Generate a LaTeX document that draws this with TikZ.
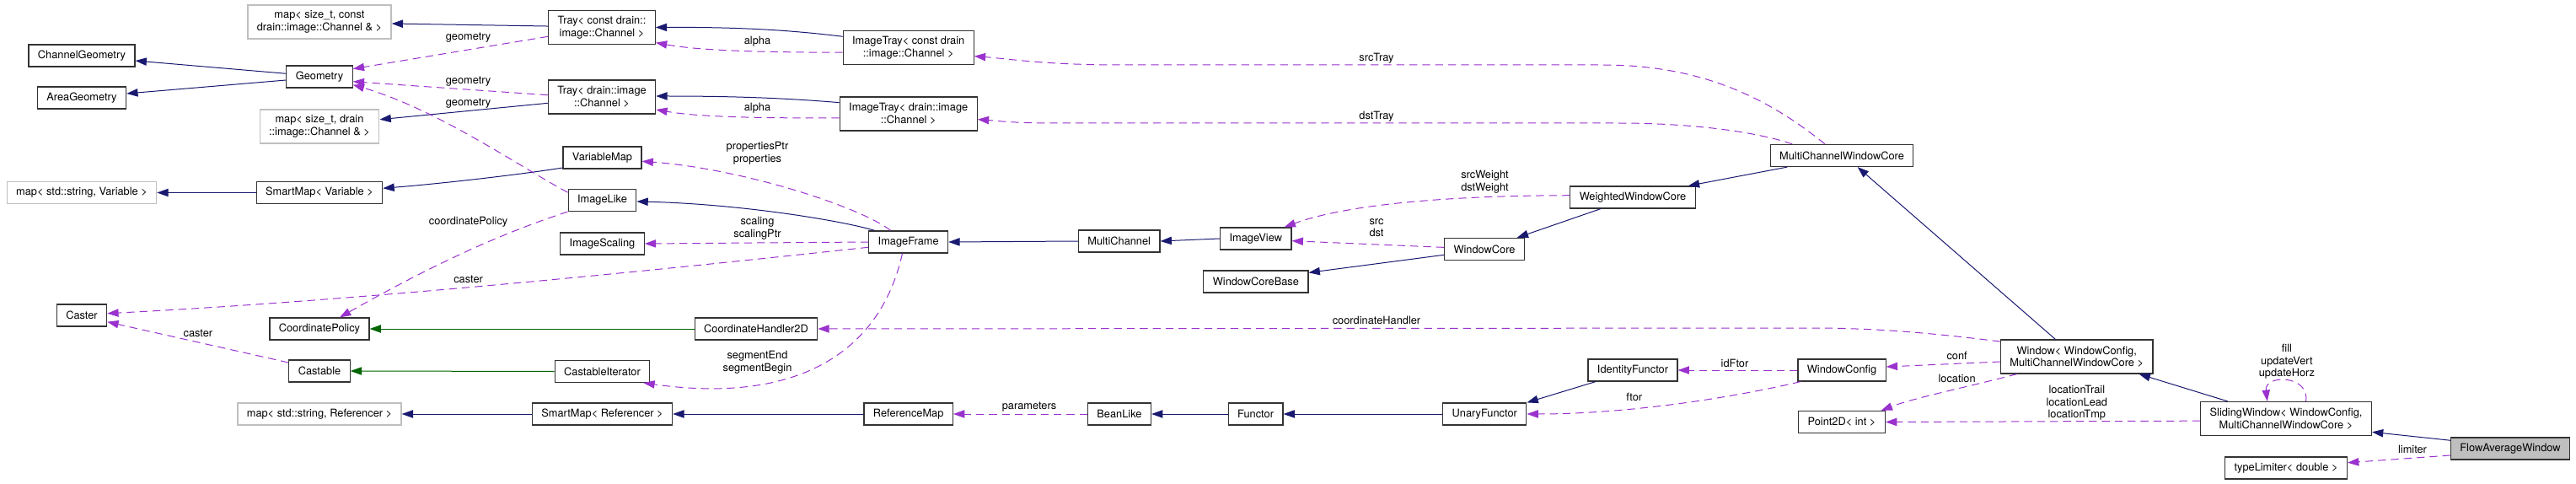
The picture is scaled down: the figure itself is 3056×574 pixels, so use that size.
\documentclass[tikz,border=0pt]{standalone}
\usepackage{fontspec}
\setmainfont{TeX Gyre Heros}
\usepackage{xcolor}
\usetikzlibrary{arrows.meta, positioning}
\definecolor{inhnavy}{HTML}{191970}
\definecolor{usepurple}{HTML}{9A32CD}
\definecolor{tmplgreen}{HTML}{006400}
\definecolor{extgray}{HTML}{BFBFBF}

\begin{document}
\begin{tikzpicture}[x=0.75pt, y=-0.75pt,
    cls/.style={draw=black!80, line width=0.9pt, fill=white, font=\fontsize{9.6}{11}\selectfont,
      inner xsep=8.2pt, inner ysep=0pt, minimum height=19.5pt, align=center},
    two/.style={minimum height=30pt},
    extcls/.style={cls, draw=extgray},
    focuscls/.style={cls, fill=extgray},
    lbl/.style={font=\fontsize{9.6}{11}\selectfont, align=center, inner sep=0pt},
    inherit/.style={draw=inhnavy, line width=0.75pt, -{Triangle[length=10pt,width=7pt]}},
    usage/.style={draw=usepurple, line width=0.75pt, dash pattern=on 7pt off 4.5pt,
      -{Triangle[length=10pt,width=7pt]}},
    tmpl/.style={draw=tmplgreen, line width=0.75pt, -{Triangle[length=10pt,width=7pt]}}]
                \useasboundingbox (0,0) rectangle (3056,574);
                % Classes
                \node[extcls, two] (mapc) at (379,26) {map< size\_t, const\\drain::image::Channel \& >};
                \node[cls] (chgeo) at (97,66) {ChannelGeometry};
                \node[cls] (areageo) at (97,116) {AreaGeometry};
                \node[cls] (geo) at (379,91) {Geometry};
                \node[extcls, two] (mapd) at (379,150) {map< size\_t, drain\\::image::Channel \& >};
                \node[extcls] (mapvar) at (97,228.5) {map< std::string, Variable >};
                \node[cls] (smvar) at (379,228.5) {SmartMap< Variable >};
                \node[cls] (caster) at (97,374) {Caster};
                \node[cls] (cpol) at (379,390) {CoordinatePolicy};
                \node[cls] (castable) at (379,440) {Castable};
                \node[extcls] (mapref) at (379,491) {map< std::string, Referencer >};
                \node[cls, two] (trayc) at (714,32.5) {Tray< const drain::\\image::Channel >};
                \node[cls, two] (trayd) at (714,115) {Tray< drain::image\\::Channel >};
                \node[cls] (varmap) at (714.5,187) {VariableMap};
                \node[cls] (imglike) at (714.5,237.5) {ImageLike};
                \node[cls] (imgscal) at (714.5,289) {ImageScaling};
                \node[cls] (castit) at (714.5,440.5) {CastableIterator};
                \node[cls] (smref) at (714.5,491) {SmartMap< Referencer >};
                \node[cls] (coordh) at (897,390) {CoordinateHandler2D};
                \node[cls, two] (itrayc) at (1077.7,56.5) {ImageTray< const drain\\::image::Channel >};
                \node[cls, two] (itrayd) at (1077.7,135) {ImageTray< drain::image\\::Channel >};
                \node[cls] (imgframe) at (1077.7,287) {ImageFrame};
                \node[cls] (refmap) at (1077.7,491) {ReferenceMap};
                \node[cls] (multich) at (1327.7,286) {MultiChannel};
                \node[cls] (beanlike) at (1328,491) {BeanLike};
                \node[cls] (imgview) at (1489.8,283) {ImageView};
                \node[cls] (wcbase) at (1489.9,334) {WindowCoreBase};
                \node[cls] (functor) at (1489.6,491) {Functor};
                \node[cls] (wcore) at (1761,295.5) {WindowCore};
                \node[cls] (unary) at (1761.3,491) {UnaryFunctor};
                \node[cls] (wwcore) at (1937,234) {WeightedWindowCore};
                \node[cls] (idfunc) at (1937,439) {IdentityFunctor};
                \node[cls] (mcwcore) at (2185,184.5) {MultiChannelWindowCore};
                \node[cls] (wconf) at (2185,439) {WindowConfig};
                \node[cls] (point) at (2185,500.5) {Point2D< int >};
                \node[cls, two] (window) at (2463.7,423) {Window< WindowConfig,\\MultiChannelWindowCore >};
                \node[cls, two] (sliding) at (2712,496.5) {SlidingWindow< WindowConfig,\\MultiChannelWindowCore >};
                \node[cls] (limiter) at (2712,555) {typeLimiter< double >};
                \node[focuscls] (flow) at (2978,532) {FlowAverageWindow};
                % Inheritance
                \draw[inherit] ([yshift=1.1pt]trayc.west) -- ([yshift=-1.5pt]mapc.east);
                \draw[inherit] ([yshift=2.8pt]geo.west) -- ([yshift=-4.5pt]chgeo.east);
                \draw[inherit] ([yshift=-3pt]geo.west) -- ([yshift=3.75pt]areageo.east);
                \draw[inherit] ([yshift=-5.5pt]trayd.west) -- ([yshift=6.2pt]mapd.east);
                \draw[inherit] ([yshift=9.9pt]itrayc.west) .. controls (940,36) and (880,32) .. (trayc.east);
                \draw[inherit] ([yshift=10pt]itrayd.west) .. controls (940,117) and (880,114) .. ([yshift=0.75pt]trayd.east);
                \draw[inherit] (smvar.west) -- (mapvar.east);
                \draw[inherit] ([yshift=-9pt]varmap.west) .. controls (610,208) and (520,218) .. ([yshift=3.9pt]smvar.east);
                \draw[inherit] ([xshift=-30pt]imgframe.north) .. controls (1000,262) and (880,242) .. ([yshift=-1.1pt]imglike.east);
                \draw[inherit] (smref.west) -- (mapref.east);
                \draw[inherit] (refmap.west) -- (smref.east);
                \draw[inherit] (multich.west) -- (imgframe.east);
                \draw[inherit] (imgview.west) -- (multich.east);
                \draw[inherit] (functor.west) -- (beanlike.east);
                \draw[inherit] (unary.west) -- (functor.east);
                \draw[inherit] ([yshift=-5.1pt]wcore.west) -- ([yshift=8pt]wcbase.east);
                \draw[inherit] ([xshift=-28.5pt]wwcore.south) -- ([xshift=-7pt]wcore.north east);
                \draw[inherit] ([xshift=-48.5pt]mcwcore.south) -- ([xshift=-6.75pt]wwcore.north east);
                \draw[inherit] ([xshift=-19pt]window.north) -- ([xshift=14pt]mcwcore.south);
                \draw[inherit] ([xshift=-33pt]idfunc.south) -- (unary.north east);
                \draw[inherit] ([xshift=-52pt]sliding.north) -- ([xshift=55.4pt]window.south);
                \draw[inherit] ([yshift=7.3pt]flow.west) -- ([yshift=-11.9pt]sliding.east);
                % Protected inheritance
                \draw[tmpl] (coordh.west) -- (cpol.east);
                \draw[tmpl] (castit.west) -- (castable.east);
                % Members
                \draw[usage] ([yshift=-8.1pt]trayc.west) -- ([yshift=7pt]geo.east);
                \draw[usage] ([yshift=1.7pt]trayd.west) -- ([yshift=-4.3pt]geo.east);
                \draw[usage] ([yshift=7pt]imglike.west) .. controls (620,200) and (520,130) .. ([yshift=3pt]geo.south east);
                \draw[usage] ([yshift=-4.3pt]itrayc.west) .. controls (900,62) and (830,60) .. ([yshift=-13.6pt]trayc.east);
                \draw[usage] ([yshift=-3.75pt]itrayd.west) .. controls (900,140) and (830,139) .. ([yshift=-11.25pt]trayd.east);
                \draw[usage] (imglike.south west) .. controls (600,275) and (520,310) .. ([xshift=18pt]cpol.north);
                \draw[usage] ([xshift=-15.75pt]imgframe.north) .. controls (1020,245) and (880,200) .. ([yshift=-3.2pt]varmap.east);
                \draw[usage] (imgframe.west) -- (imgscal.east);
                \draw[usage] ([yshift=-4.7pt]imgframe.west) .. controls (800,318) and (450,355) .. ([yshift=1.7pt]caster.east);
                \draw[usage] ([yshift=7.5pt]castable.west) -- ([yshift=-5.8pt]caster.east);
                \draw[usage] ([xshift=-5.4pt]imgframe.south) .. controls (1045,415) and (950,480) .. ([xshift=-6pt]castit.south east);
                \draw[usage] (beanlike.west) -- (refmap.east);
                \draw[usage] ([yshift=1.7pt]wwcore.west) .. controls (1700,232) and (1590,245) .. ([xshift=-6.75pt]imgview.north east);
                \draw[usage] ([yshift=1.6pt]wcore.west) -- ([yshift=-2pt]imgview.east);
                \draw[usage] ([xshift=-15pt]mcwcore.north) .. controls (2090,110) and (2010,77) .. (1900,77) -- (1330,77)
                    .. controls (1240,77) and (1200,70) .. ([yshift=-7.6pt]itrayc.east);
                \draw[usage] ([xshift=-44pt]mcwcore.north) .. controls (2080,155) and (2000,146) .. (1920,146) -- (1250,146)
                    .. controls (1200,146) and (1180,143) .. ([yshift=-5pt]itrayd.east);
                \draw[usage] ([yshift=13.5pt]window.west) .. controls (2300,396) and (2230,389) .. (2150,389) -- (coordh.east);
                \draw[usage] ([yshift=-4.5pt]window.west) -- ([yshift=3pt]wconf.east);
                \draw[usage] ([xshift=15pt]window.south west) .. controls (2330,460) and (2270,472) .. ([xshift=-4pt]point.north east);
                \draw[usage] (wconf.west) -- (idfunc.east);
                \draw[usage] ([xshift=3pt]wconf.south west) .. controls (2040,475) and (1920,491) .. (unary.east);
                \draw[usage] ([yshift=-2pt]sliding.west) -- (point.east);
                \draw[usage] ([xshift=17.7pt]sliding.north) .. controls (2740,444) and (2686,444) .. ([xshift=-16.7pt]sliding.north);
                \draw[usage] ([yshift=-6pt]flow.west) -- ([yshift=4.7pt]limiter.east);
                % Labels
                \node[lbl] (lgeoa) at (555.6,45) {geometry};
                \node[lbl] (lgeob) at (555.6,97) {geometry};
                \node[lbl] (lgeoc) at (555.6,123) {geometry};
                \node[lbl] (lcpol) at (555.6,263) {coordinatePolicy};
                \node[lbl] (lcastera) at (555.6,331) {caster};
                \node[lbl] (lcasterb) at (234.9,395) {caster};
                \node[lbl] (lalphaa) at (898.5,49) {alpha};
                \node[lbl] (lalphab) at (898.5,128) {alpha};
                \node[lbl] (lprops) at (898.5,182) {propertiesPtr\\properties};
                \node[lbl] (lscal) at (898.5,271) {scaling\\scalingPtr};
                \node[lbl] (lseg) at (898.5,430) {segmentEnd\\segmentBegin};
                \node[lbl] (lparam) at (1221,483) {parameters};
                \node[lbl] (lsrctray) at (1633,69) {srcTray};
                \node[lbl] (ldsttray) at (1633,138) {dstTray};
                \node[lbl] (lweight) at (1761.5,216) {srcWeight\\dstWeight};
                \node[lbl] (lsrc) at (1633,270) {src\\dst};
                \node[lbl] (lch) at (1633,380) {coordinateHandler};
                \node[lbl] (lidftor) at (2058,431) {idFtor};
                \node[lbl] (lftor) at (1938.8,471) {ftor};
                \node[lbl] (lconf) at (2321.6,422) {conf};
                \node[lbl] (lloc) at (2321.6,449) {location};
                \node[lbl] (lloctrail) at (2463.8,478) {locationTrail\\locationLead\\locationTmp};
                \node[lbl] (lfill) at (2712.9,429) {fill\\updateVert\\updateHorz};
                \node[lbl] (llimiter) at (2862,533) {limiter};
            \end{tikzpicture}
\end{document}
